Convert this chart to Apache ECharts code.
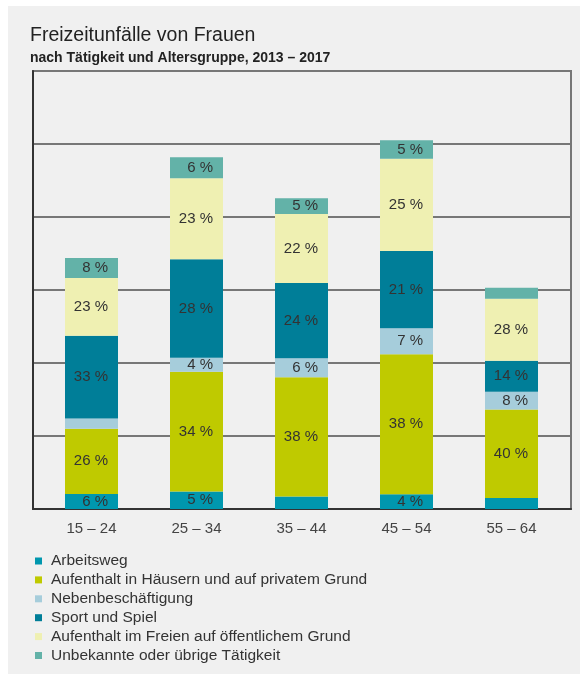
<!DOCTYPE html>
<html>
<head>
<meta charset="utf-8">
<script src="https://cdn.jsdelivr.net/npm/echarts@6/dist/echarts.min.js"></script>
<style>
  html, body { margin: 0; padding: 0; background: #fff; }
  #main { position: absolute; left: 8px; top: 6px; width: 572px; height: 668px; background: #f0f0f0; }
</style>
</head>
<body>
<div id="main"></div>
<script>
// Altersgruppen
const ageGroups = ['15 – 24', '25 – 34', '35 – 44', '45 – 54', '55 – 64']
// Gesamthöhe der Säulen (Skala ohne Beschriftung, ein Rasterschritt = 10)
const totals = [34.4, 48.2, 43.0, 50.5, 30.3]

// Anteile in % je Tätigkeit
const arbeitsweg = [6, 5, 4, 4, 5]
const haeuser = [26, 34, 38, 38, 40]
const neben = [4, 4, 6, 7, 8]
const sport = [33, 28, 24, 21, 14]
const freien = [23, 23, 22, 25, 28]
const unbekannt = [8, 6, 5, 5, 5]

const seriesDefs = [
  { name: 'Arbeitsweg', data: arbeitsweg, color: '#0097ae' },
  { name: 'Aufenthalt in Häusern und auf privatem Grund', data: haeuser, color: '#bfca00' },
  { name: 'Nebenbeschäftigung', data: neben, color: '#a6cddb' },
  { name: 'Sport und Spiel', data: sport, color: '#007e98' },
  { name: 'Aufenthalt im Freien auf öffentlichem Grund', data: freien, color: '#eff0b2' },
  { name: 'Unbekannte oder übrige Tätigkeit', data: unbekannt, color: '#63b2a8' }
]

const font = '"Liberation Sans", Arial, sans-serif'

let chart = echarts.init(document.getElementById('main'))

// Säulen liegen im inneren Raster (1), Rahmen und Linien im äusseren (0)
const series = seriesDefs.map((s) => ({
  name: s.name,
  type: 'bar',
  stack: 'total',
  xAxisIndex: 1,
  yAxisIndex: 1,
  barWidth: 53,
  itemStyle: { color: s.color },
  data: s.data.map((p, i) => ({ value: totals[i] * p / 100, pct: p })),
  label: {
    show: true,
    position: 'insideRight',
    distance: 10,
    fontFamily: font,
    fontSize: 15,
    color: '#333',
    formatter: (d) => d.value >= 1.85 ? d.data.pct + ' %' : ''
  }
}))

chart.setOption({
  backgroundColor: '#f0f0f0',
  animation: false,
  title: [
    {
      text: 'Freizeitunfälle von Frauen',
      left: 17, top: 15,
      textStyle: { fontFamily: font, fontSize: 19.5, fontWeight: 'normal', color: '#222' }
    },
    {
      text: 'nach Tätigkeit und Altersgruppe, 2013 – 2017',
      left: 17, top: 40,
      textStyle: { fontFamily: font, fontSize: 14, fontWeight: 'bold', color: '#222' }
    }
  ],
  grid: [
    { left: 25, right: 9, top: 65, bottom: 165, show: true, borderColor: '#777', borderWidth: 2 },
    { left: 31, right: 16, top: 65, bottom: 165 }
  ],
  xAxis: [
    {
      type: 'value', gridIndex: 0, min: 0, max: 1,
      axisLabel: { show: false },
      axisTick: { show: false },
      splitLine: { show: false },
      axisLine: { show: true, lineStyle: { color: '#333', width: 2 } }
    },
    {
      type: 'category', gridIndex: 1,
      data: ageGroups,
      axisTick: { show: false },
      axisLine: { show: false },
      axisLabel: { fontFamily: font, fontSize: 15, color: '#444', margin: 12 }
    }
  ],
  yAxis: [
    {
      type: 'value', gridIndex: 0,
      min: 0, max: 60, interval: 10,
      axisLabel: { show: false },
      axisTick: { show: false },
      axisLine: { show: true, lineStyle: { color: '#333', width: 2 } },
      splitLine: { lineStyle: { color: '#777', width: 2 } }
    },
    {
      type: 'value', gridIndex: 1,
      min: 0, max: 60, interval: 10,
      show: false
    }
  ],
  legend: {
    orient: 'vertical',
    left: 22, top: 542, bottom: 0,
    itemWidth: 7, itemHeight: 7,
    itemGap: 2.9,
    icon: 'rect',
    textStyle: { fontFamily: font, fontSize: 15.5, color: '#333', padding: [0, 0, 0, 4] },
    data: seriesDefs.map((s) => s.name)
  },
  series: series
})
</script>
</body>
</html>
